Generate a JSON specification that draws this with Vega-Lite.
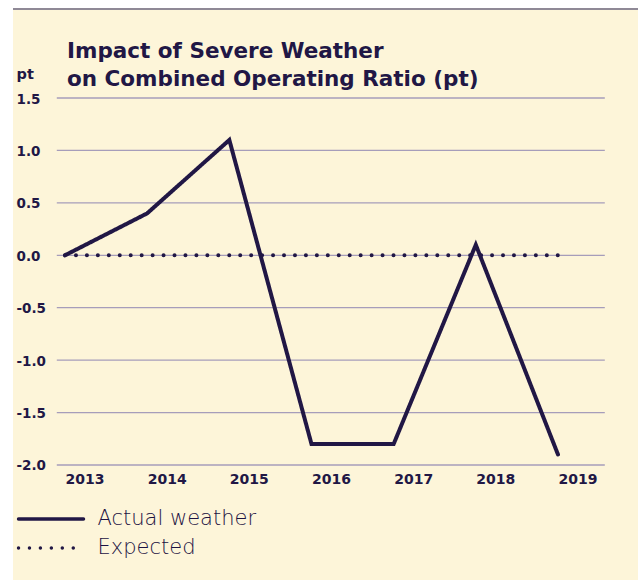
{
  "$schema": "https://vega.github.io/schema/vega-lite/v6.json",
  "autosize": {"type": "none"},
  "width": 625,
  "height": 571,
  "padding": {"left": 13, "top": 9, "right": 0, "bottom": 0},
  "background": "#ffffff",
  "title": {
    "text": ["Impact of Severe Weather", "on Combined Operating Ratio (pt)"],
    "anchor": "start",
    "frame": "group",
    "dx": 54,
    "offset": -82,
    "font": "DejaVu Sans",
    "fontSize": 21.5,
    "fontWeight": "bold",
    "color": "#211745",
    "lineHeight": 28
  },
  "datasets": {
    "series": [
      {"year": 2013, "value": 0, "series": "Actual weather"},
      {"year": 2014, "value": 0.4, "series": "Actual weather"},
      {"year": 2015, "value": 1.1, "series": "Actual weather"},
      {"year": 2016, "value": -1.8, "series": "Actual weather"},
      {"year": 2017, "value": -1.8, "series": "Actual weather"},
      {"year": 2018, "value": 0.1, "series": "Actual weather"},
      {"year": 2019, "value": -1.9, "series": "Actual weather"},
      {"year": 2013, "value": 0, "series": "Expected"},
      {"year": 2014, "value": 0, "series": "Expected"},
      {"year": 2015, "value": 0, "series": "Expected"},
      {"year": 2016, "value": 0, "series": "Expected"},
      {"year": 2017, "value": 0, "series": "Expected"},
      {"year": 2018, "value": 0, "series": "Expected"},
      {"year": 2019, "value": 0, "series": "Expected"}
    ],
    "grid": [
      {"v": -2}, {"v": -1.5}, {"v": -1}, {"v": -0.5},
      {"v": 0}, {"v": 0.5}, {"v": 1}, {"v": 1.5}
    ]
  },
  "layer": [
    {
      "data": {"name": "grid"},
      "mark": {"type": "rule", "color": "#a69dba", "strokeWidth": 1.3},
      "encoding": {
        "x": {"datum": 2012.9, "type": "quantitative"},
        "x2": {"datum": 2019.57},
        "y": {"field": "v", "type": "quantitative"}
      }
    },
    {
      "data": {"values": [{}]},
      "mark": {"type": "rule", "color": "#8f8996", "strokeWidth": 2},
      "encoding": {
        "y": {"datum": 2.349, "type": "quantitative"}
      }
    },
    {
      "data": {"name": "series"},
      "mark": {
        "type": "line",
        "color": "#211745",
        "strokeWidth": 4,
        "strokeCap": "round",
        "strokeJoin": "miter"
      },
      "encoding": {
        "x": {
          "field": "year",
          "type": "quantitative",
          "scale": {"domain": [2012.367, 2019.974], "nice": false, "zero": false},
          "axis": {
            "values": [2013, 2014, 2015, 2016, 2017, 2018, 2019],
            "format": "d",
            "title": null,
            "labelAlign": "left",
            "labelBaseline": "middle",
            "labelPadding": 14,
            "tickSize": 0,
            "ticks": false,
            "domain": false,
            "grid": false,
            "offset": -115,
            "labelFlush": false,
            "labelOverlap": false,
            "labelBound": false,
            "labelFont": "DejaVu Sans",
            "labelFontSize": 14,
            "labelFontWeight": "bold",
            "labelColor": "#211745"
          }
        },
        "y": {
          "field": "value",
          "type": "quantitative",
          "scale": {"domain": [-3.097, 2.349], "nice": false, "zero": false},
          "axis": {
            "values": [-2, -1.5, -1, -0.5, 0, 0.5, 1, 1.5],
            "labelExpr": "replace(format(datum.value, '.1f'), '\u2212', '-')",
            "labelAlign": "left",
            "labelBaseline": "middle",
            "labelPadding": -3,
            "labelOffset": 1,
            "tickSize": 0,
            "ticks": false,
            "domain": false,
            "grid": false,
            "labelOverlap": false,
            "labelFont": "DejaVu Sans",
            "labelFontSize": 13.5,
            "labelFontWeight": "bold",
            "labelColor": "#211745",
            "title": "pt",
            "titleAngle": 0,
            "titleX": 3,
            "titleY": 69,
            "titleAlign": "left",
            "titleBaseline": "alphabetic",
            "titleFont": "DejaVu Sans",
            "titleFontSize": 14.5,
            "titleFontWeight": "bold",
            "titleColor": "#211745"
          }
        },
        "strokeDash": {
          "field": "series",
          "type": "nominal",
          "scale": {
            "domain": ["Actual weather", "Expected"],
            "range": [[1, 0], [0.01, 10.94]]
          },
          "legend": {
            "orient": "none",
            "legendX": 3.5,
            "legendY": 498,
            "title": null,
            "padding": 0,
            "symbolType": "stroke",
            "symbolSize": 4225,
            "symbolStrokeWidth": 3.5,
            "symbolStrokeColor": "#211745",
            "clipHeight": 24,
            "rowPadding": 5,
            "labelOffset": 12,
            "labelLimit": 400,
            "labelFont": "DejaVu Sans",
            "labelFontSize": 21,
            "labelFontWeight": 200,
            "labelColor": "#1c1242",
            "encode": {
              "symbols": {"update": {"strokeCap": {"value": "round"}}}
            }
          }
        }
      }
    }
  ],
  "config": {
    "view": {"fill": "#fdf5d9", "stroke": null},
    "font": "DejaVu Sans"
  }
}
